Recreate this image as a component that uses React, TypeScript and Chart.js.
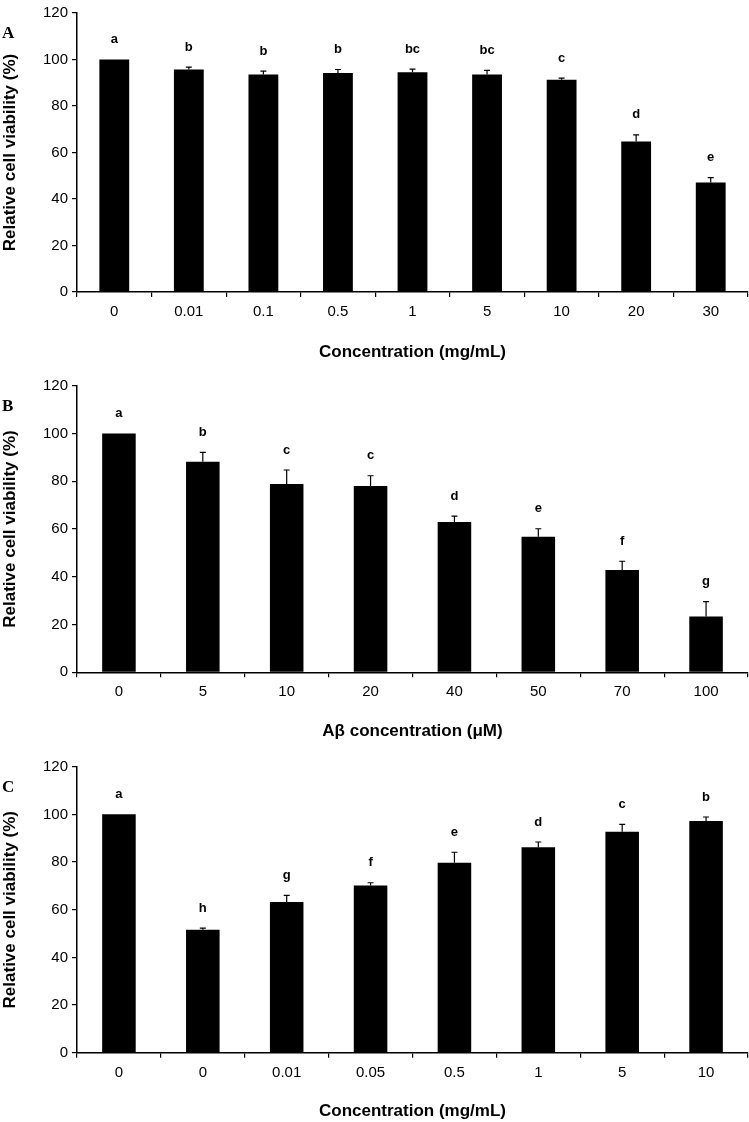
import React, { useEffect, useRef } from 'react';
import { Chart, registerables } from 'chart.js';

Chart.register(...registerables);

// ---------- Data ----------
const catsA = ['0', '0.01', '0.1', '0.5', '1', '5', '10', '20', '30'];
const meanA = [100, 95.7, 93.5, 94.2, 94.5, 93.5, 91.3, 64.7, 47.1];
const errA = [0, 1.0, 1.5, 1.5, 1.4, 1.8, 0.7, 2.9, 2.1];
const sigA = ['a', 'b', 'b', 'b', 'bc', 'bc', 'c', 'd', 'e'];

const catsB = ['0', '5', '10', '20', '40', '50', '70', '100'];
const meanB = [100, 88.2, 78.8, 78.0, 62.9, 56.8, 42.8, 23.4];
const errB = [0, 3.9, 5.9, 4.3, 2.5, 3.3, 3.7, 6.2];
const sigB = ['a', 'b', 'c', 'c', 'd', 'e', 'f', 'g'];

const catsC = ['0', '0', '0.01', '0.05', '0.5', '1', '5', '10'];
const meanC = [100, 51.6, 63.2, 70.2, 79.7, 86.2, 92.7, 97.2];
const errC = [0, 0.7, 2.8, 1.1, 4.4, 2.2, 3.1, 1.7];
const sigC = ['a', 'h', 'g', 'f', 'e', 'd', 'c', 'b'];

const yMin = 0;
const yMax = 120;
const yStep = 20;

const SANS = 'Arial, "Liberation Sans", sans-serif';
const SERIF = '"Times New Roman", "Liberation Serif", serif';

const annotPlugin = {
  id: 'annot',
  afterDatasetsDraw(chart: any, _args: any, opts: any) {
    const { ctx, chartArea } = chart;
    const meta = chart.getDatasetMeta(0);
    const y = chart.scales.y;
    ctx.save();
    ctx.strokeStyle = '#000';
    ctx.fillStyle = '#000';
    ctx.lineWidth = 1.2;
    ctx.font = `bold 13px ${SANS}`;
    ctx.textAlign = 'center';
    ctx.textBaseline = 'middle';
    opts.errors.forEach((e: number, i: number) => {
      const bar = meta.data[i];
      const x = bar.x;
      const yBar = y.getPixelForValue(opts.means[i]);
      const yTop = y.getPixelForValue(opts.means[i] + e);
      if (e > 0) {
        ctx.beginPath();
        ctx.moveTo(x, yBar);
        ctx.lineTo(x, yTop);
        ctx.moveTo(x - 3, yTop);
        ctx.lineTo(x + 3, yTop);
        ctx.stroke();
      }
      ctx.fillText(opts.sig[i], x, yTop - 20);
    });
    ctx.font = `bold 17px ${SERIF}`;
    ctx.textAlign = 'left';
    ctx.fillText(opts.panel, 2, chartArea.top + 21);
    ctx.restore();
  },
};

type PanelProps = {
  cats: string[];
  means: number[];
  errs: number[];
  sig: string[];
  panel: string;
  xTitle: string;
  top: number;
  height: number;
  padTop: number;
  xAxisH: number;
};

function Panel(p: PanelProps) {
  const ref = useRef<HTMLCanvasElement>(null);
  useEffect(() => {
    if (!ref.current) return;
    const chart = new Chart(ref.current, {
      type: 'bar',
      data: {
        labels: p.cats,
        datasets: [
          {
            data: p.means,
            backgroundColor: '#000',
            borderColor: '#000',
            borderWidth: 0,
            barPercentage: 0.4,
            categoryPercentage: 1,
          },
        ],
      },
      options: {
        animation: false,
        responsive: false,
        maintainAspectRatio: false,
        layout: { padding: { top: p.padTop, left: 0, right: 1, bottom: 0 } },
        plugins: {
          legend: { display: false },
          tooltip: { enabled: false },
          annot: { means: p.means, errors: p.errs, sig: p.sig, panel: p.panel },
        } as any,
        scales: {
          x: {
            grid: {
              display: true,
              drawOnChartArea: false,
              drawTicks: true,
              tickLength: 5,
              color: '#000',
              lineWidth: 1.2,
              offset: true,
            },
            border: { display: true, color: '#000', width: 1.5 },
            ticks: {
              color: '#000',
              font: { family: SANS, size: 15 },
              padding: 6,
              maxRotation: 0,
              autoSkip: false,
            },
            title: {
              display: true,
              text: p.xTitle,
              color: '#000',
              font: { family: SANS, size: 17, weight: 'bold' },
              padding: 0,
            },
            afterFit: (s: any) => {
              s.height = p.xAxisH;
            },
          },
          y: {
            min: yMin,
            max: yMax,
            grid: {
              display: true,
              drawOnChartArea: false,
              drawTicks: true,
              tickLength: 5,
              color: '#000',
              lineWidth: 1.2,
            },
            border: { display: true, color: '#000', width: 1.5 },
            ticks: {
              stepSize: yStep,
              color: '#000',
              font: { family: SANS, size: 15 },
              padding: 4,
            },
            title: {
              display: true,
              text: 'Relative cell viability (%)',
              color: '#000',
              font: { family: SANS, size: 17, weight: 'bold' },
              padding: 0,
            },
            afterFit: (s: any) => {
              s.width = 77;
            },
          },
        },
      },
      plugins: [annotPlugin as any],
    });
    return () => chart.destroy();
  }, []);
  return (
    <canvas
      ref={ref}
      width={749}
      height={p.height}
      style={{ position: 'absolute', left: 0, top: p.top, width: 749, height: p.height }}
    />
  );
}

export default function App() {
  return (
    <div style={{ position: 'absolute', left: 0, top: 0, width: 749, height: 1122, background: '#fff' }}>
      <Panel cats={catsA} means={meanA} errs={errA} sig={sigA} panel="A" xTitle="Concentration (mg/mL)"
        top={0} height={363} padTop={5} xAxisH={71} />
      <Panel cats={catsB} means={meanB} errs={errB} sig={sigB} panel="B" xTitle="Aβ concentration (μM)"
        top={363} height={379} padTop={22.7} xAxisH={69.7} />
      <Panel cats={catsC} means={meanC} errs={errC} sig={sigC} panel="C" xTitle="Concentration (mg/mL)"
        top={742} height={380} padTop={24.7} xAxisH={69.3} />
    </div>
  );
}
